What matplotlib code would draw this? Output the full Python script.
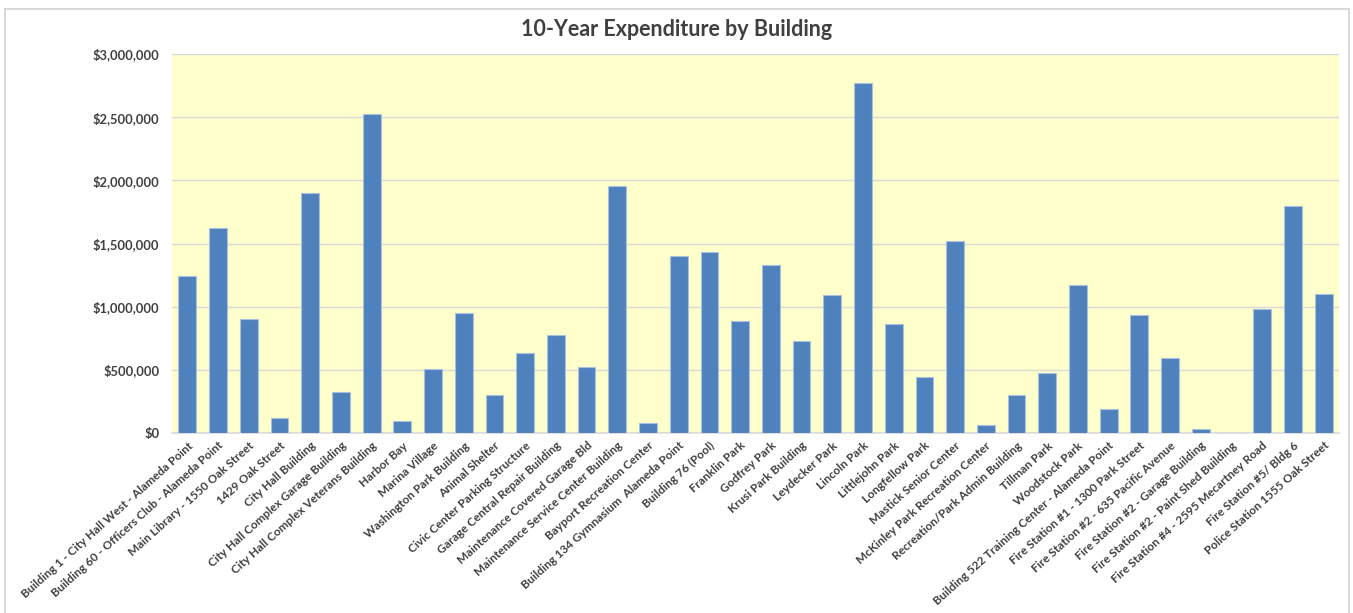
import matplotlib.pyplot as plt
import matplotlib.patches as mpatches
from matplotlib.ticker import FuncFormatter
import numpy as np

buildings = [
    "Building 1 - City Hall West - Alameda Point",
    "Building 60 - Officers Club - Alameda Point",
    "Main Library - 1550 Oak Street",
    "1429 Oak Street",
    "City Hall Building",
    "City Hall Complex Garage Building",
    "City Hall Complex Veterans Building",
    "Harbor Bay",
    "Marina Village",
    "Washington Park Building",
    "Animal Shelter",
    "Civic Center Parking Structure",
    "Garage Central Repair Building",
    "Maintenance Covered Garage Bld",
    "Maintenance Service Center Building",
    "Bayport Recreation Center",
    "Building 134 Gymnasium  Alameda Point",
    "Building 76 (Pool)",
    "Franklin Park",
    "Godfrey Park",
    "Krusi Park Building",
    "Leydecker Park",
    "Lincoln Park",
    "Littlejohn Park",
    "Longfellow Park",
    "Mastick Senior Center",
    "McKinley Park Recreation Center",
    "Recreation/Park Admin Building",
    "Tillman Park",
    "Woodstock Park",
    "Building 522 Training Center - Alameda Point",
    "Fire Station #1 - 1300 Park Street",
    "Fire Station #2 - 635 Pacific Avenue",
    "Fire Station #2 - Garage Building",
    "Fire Station #2 - Paint Shed Building",
    "Fire Station #4 - 2595 Mecartney Road",
    "Fire Station #5/ Bldg 6",
    "Police Station 1555 Oak Street",
]

# 10-year expenditure
expenditure = [
    1245000, 1625000, 902000, 122000, 1899000, 322000, 2527000, 93000,
    506000, 947000, 304000, 631000, 773000, 520000, 1957000, 81000,
    1400000, 1432000, 888000, 1327000, 728000, 1089000, 2771000, 862000,
    440000, 1521000, 61000, 303000, 475000, 1171000, 192000, 931000,
    591000, 29000, 0, 978000, 1796000, 1097000,
]

y_ticks = [0, 500000, 1000000, 1500000, 2000000, 2500000, 3000000]

plt.rcParams["font.family"] = ["Lato", "DejaVu Sans"]
text_color = "#404040"

fig = plt.figure(figsize=(13.53, 6.13), dpi=100)

# light chart frame like the spreadsheet chart area
frame = mpatches.Rectangle((5 / 1353, -0.05), 1344 / 1353, 1 - 9 / 613 + 0.05,
                           transform=fig.transFigure, fill=False,
                           edgecolor="#D9D9D9", linewidth=1.5)
fig.patches.append(frame)

ax = fig.add_axes([172 / 1353, 1 - 433 / 613, 1167 / 1353, 379 / 613])
ax.set_facecolor("#FFFFCC")

x = np.arange(len(buildings))
ax.bar(x, expenditure, width=0.58, color="#4F81BD",
       edgecolor="#A9C0DE", linewidth=0.8, zorder=3)

ax.set_xlim(-0.5, len(buildings) - 0.5)
ax.set_ylim(0, 3000000)
ax.set_yticks(y_ticks)
ax.yaxis.set_major_formatter(FuncFormatter(lambda v, _: f"${v:,.0f}"))
ax.grid(axis="y", color="#D9D9D9", linewidth=1, zorder=0)

for side in ["top", "right", "left"]:
    ax.spines[side].set_visible(False)
ax.spines["bottom"].set_color("#D9D9D9")
ax.spines["bottom"].set_linewidth(1.2)

ax.tick_params(axis="y", length=0, pad=9, labelsize=9.3, labelcolor=text_color)
ax.tick_params(axis="x", length=0, pad=5)
for lab in ax.get_yticklabels():
    lab.set_fontweight("bold")

ax.set_xticks(x)
ax.set_xticklabels(buildings, rotation=42, ha="right", va="top",
                   rotation_mode="anchor", fontsize=8.5, fontweight="bold",
                   color=text_color)

fig.text(0.5, 1 - 29 / 613, "10-Year Expenditure by Building", ha="center",
         va="center", fontsize=15.5, fontweight="bold", color=text_color)

fig.savefig("out.png", dpi=100)
